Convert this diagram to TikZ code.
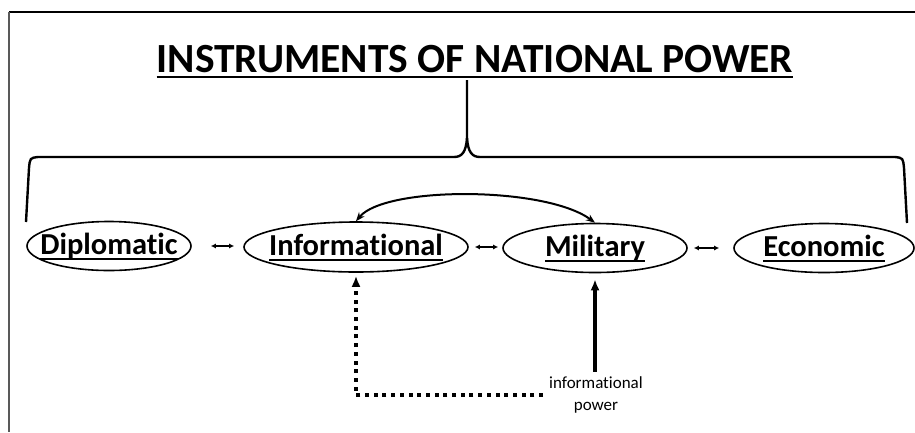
\documentclass[tikz,border=0pt]{standalone}
\usepackage{fontspec}
\setmainfont{Carlito}[Ligatures=NoCommon]
\usetikzlibrary{arrows.meta,shapes.geometric}
\newcommand\myul[1]{\makebox[0pt]{\raisebox{-8pt}[0pt][0pt]{\setbox0\hbox{#1}\rlap{\rule[-6pt]{\wd0}{2pt}}\box0}}}
\begin{document}
\begin{tikzpicture}[x=1pt,y=-1pt,
  power/.style={draw,ellipse,line width=1.6pt,inner sep=0pt,font=\fontsize{30.5}{32}\selectfont\bfseries},
  smallarr/.style={{Latex[length=5pt,width=5pt]}-{Latex[length=5pt,width=5pt]},line width=1.4pt},
  bracepath/.style={line width=2.4pt,line join=round},
  curvearr/.style={{Stealth[length=9pt,width=7pt]}-{Stealth[length=9pt,width=7pt]},line width=2pt},
  solidarr/.style={-{Latex[length=11pt,width=9pt]},line width=3.5pt},
  dotarr/.style={-{Latex[length=11pt,width=9pt]},line width=3.5pt,dash pattern=on 4pt off 4.7pt}]
\useasboundingbox (0,0) rectangle (915,432);
\fill[white] (0,0) rectangle (915,432);
% frame
\draw[line width=1.6pt] (9,12) -- (915,12);
\draw[line width=2pt,color=black!65] (9,12) -- (9,432);
% title
\node[anchor=base,inner sep=0pt,font=\fontsize{41.5}{44}\selectfont\bfseries] (title) at (475,72) {INSTRUMENTS OF NATIONAL POWER};
\draw[line width=2.6pt] ([yshift=-5pt]title.base west) -- ([yshift=-5pt]title.base east);
% brace
\draw[bracepath] (26,222) -- (29,168) .. controls (30,158) .. (38,157) -- (454,157)
  .. controls (462,157) and (466,152) .. (467,138) -- (467,80);
\draw[bracepath] (907,223) -- (904,168) .. controls (903,158) .. (895,157) -- (480,157)
  .. controls (472,157) and (468,152) .. (467,138);
% ellipses
\node[power,minimum width=164pt,minimum height=49pt] (dip) at (109,246) {\myul{Diplomatic}};
\node[power,minimum width=224pt,minimum height=50pt] (inf) at (356,247) {\myul{Informational}};
\node[power,minimum width=184pt,minimum height=49pt] (mil) at (595,248) {\myul{Military}};
\node[power,minimum width=180pt,minimum height=49pt] (eco) at (824,248) {\myul{Economic}};
% small arrows
\draw[smallarr,shorten <=19pt,shorten >=9pt] (dip.east) -- (dip.east -| inf.west);
\draw[smallarr,shorten <=6pt,shorten >=4pt] (inf.east) -- (inf.east -| mil.west);
\draw[smallarr,shorten <=6pt,shorten >=14pt] (mil.east) -- (mil.east -| eco.west);
% curved arrow
\draw[curvearr] (inf.north) .. controls (385,186) and (545,186) .. (mil.north);
% informational power
\node[font=\fontsize{17}{22}\selectfont,align=center,inner sep=6pt] (ip) at (596,395) {informational\\power};
\draw[solidarr,shorten >=6pt] ([yshift=-1pt]ip.north -| mil.south) -- (mil.south);
\draw[dotarr,shorten >=3pt] (ip.west) -| (inf.south);
\end{tikzpicture}
\end{document}
